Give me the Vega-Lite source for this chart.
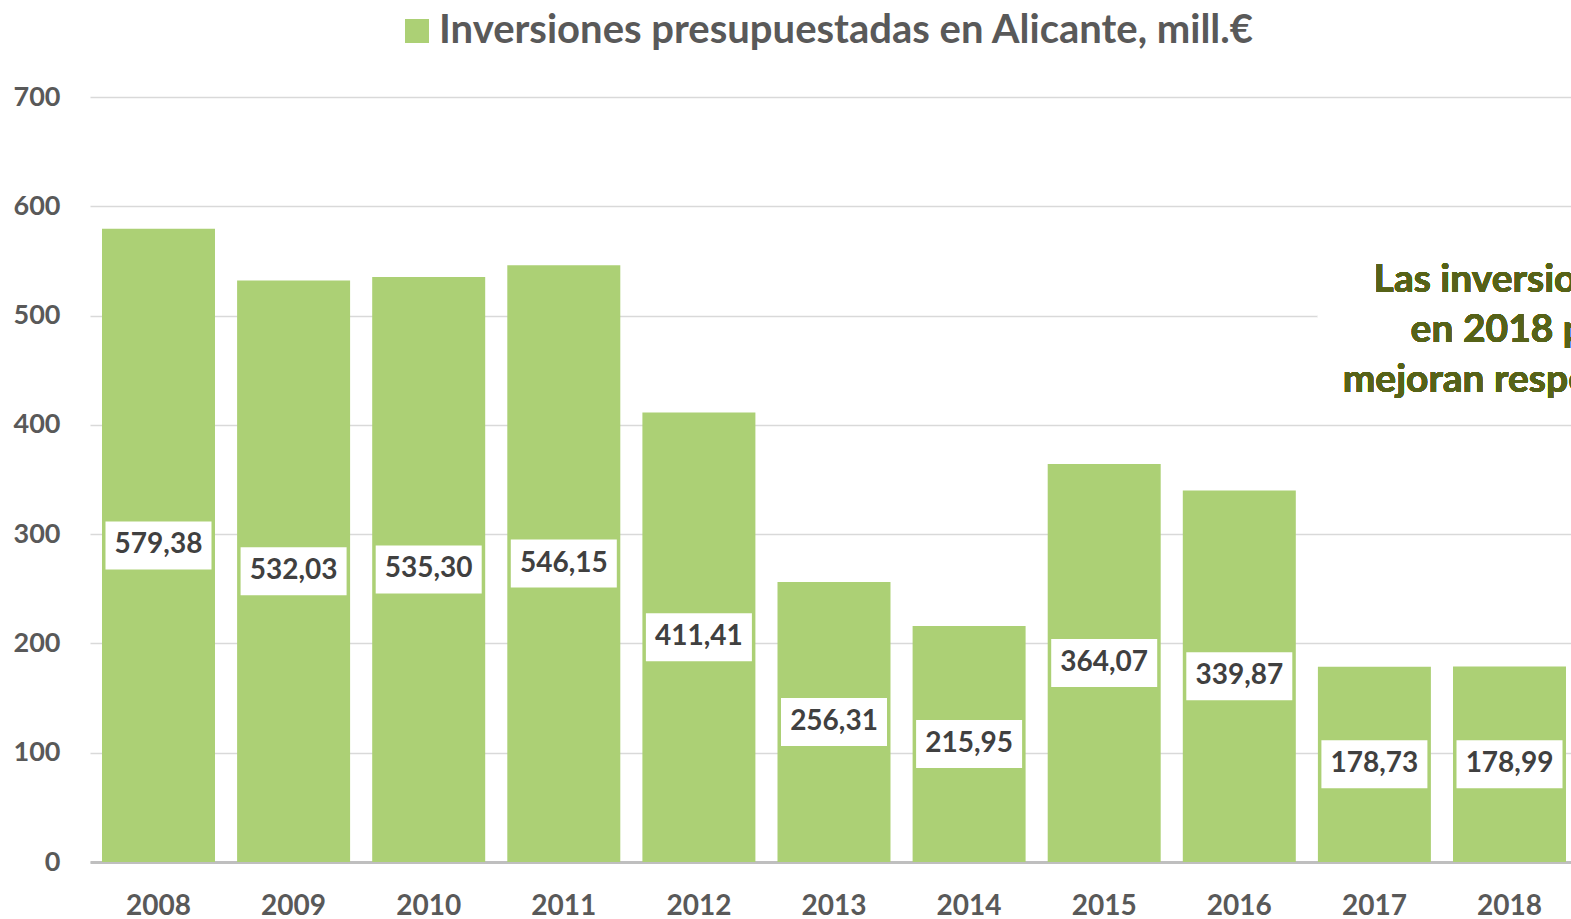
{
  "$schema": "https://vega.github.io/schema/vega-lite/v6.json",
  "autosize": "none",
  "width": 1481,
  "height": 765,
  "padding": {"left": 90, "top": 97, "right": 0, "bottom": 57},
  "background": "white",
  "data": {
    "values": [
      {"year": "2008", "value": 579.38},
      {"year": "2009", "value": 532.03},
      {"year": "2010", "value": 535.30},
      {"year": "2011", "value": 546.15},
      {"year": "2012", "value": 411.41},
      {"year": "2013", "value": 256.31},
      {"year": "2014", "value": 215.95},
      {"year": "2015", "value": 364.07},
      {"year": "2016", "value": 339.87},
      {"year": "2017", "value": 178.73},
      {"year": "2018", "value": 178.99}
    ]
  },
  "encoding": {
    "x": {
      "field": "year",
      "type": "nominal",
      "scale": {"range": [0, 1488], "paddingInner": 0.1636, "paddingOuter": 0.0888},
      "axis": {
        "title": null,
        "labelAngle": 0,
        "labelFont": "Lato",
        "labelFontSize": 28,
        "labelFontWeight": "bold",
        "labelColor": "#595959",
        "labelPadding": 30,
        "ticks": false,
        "domainColor": "#bfbfbf",
        "domainWidth": 3
      }
    }
  },
  "layer": [
    {
      "mark": {"type": "bar", "fill": "#acd075"},
      "encoding": {
        "y": {
          "field": "value",
          "type": "quantitative",
          "scale": {"domain": [0, 700], "nice": false},
          "axis": {
            "title": null,
            "values": [0, 100, 200, 300, 400, 500, 600, 700],
            "labelFont": "Lato",
            "labelFontSize": 27,
            "labelFontWeight": "bold",
            "labelColor": "#595959",
            "labelPadding": 30,
            "ticks": false,
            "domain": false,
            "gridColor": "#d9d9d9",
            "gridWidth": 1.5
          }
        },
        "color": {
          "datum": "Inversiones presupuestadas  en Alicante, mill.€",
          "scale": {"range": ["#acd075"]},
          "legend": {
            "title": null,
            "orient": "top",
            "offset": 46,
            "symbolType": "square",
            "symbolSize": 576,
            "symbolStrokeWidth": 0,
            "labelFont": "Lato",
            "labelFontSize": 40,
            "labelFontWeight": "bold",
            "labelColor": "#595959",
            "labelOffset": 2,
            "labelLimit": 2000
          }
        }
      }
    },
    {
      "mark": {"type": "rect", "fill": "white"},
      "encoding": {
        "x": {"datum": "2017", "bandPosition": 0},
        "x2": {"datum": "2018", "bandPosition": 1.5},
        "y": {"datum": 585, "type": "quantitative", "scale": {"domain": [0, 700], "nice": false}, "axis": null},
        "y2": {"datum": 430}
      }
    },
    {
      "mark": {"type": "tick", "color": "white", "opacity": 1, "thickness": 48, "size": 106},
      "encoding": {
        "y": {"field": "value", "type": "quantitative", "scale": {"domain": [0, 1400], "nice": false}, "axis": null}
      }
    },
    {
      "mark": {"type": "text", "font": "Lato", "fontSize": 28, "fontWeight": "bold", "color": "#404040", "baseline": "middle"},
      "encoding": {
        "y": {"field": "value", "type": "quantitative", "scale": {"domain": [0, 1400], "nice": false}, "axis": null},
        "text": {"field": "value", "type": "quantitative", "format": ".2f"}
      }
    },
    {
      "mark": {"type": "text", "font": "Lato", "fontSize": 39, "fontWeight": "bold", "color": "#566218", "align": "center", "baseline": "alphabetic", "lineHeight": 50},
      "encoding": {
        "x": {"datum": "2018", "bandPosition": 1.3},
        "y": {"datum": 522, "type": "quantitative", "scale": {"domain": [0, 700], "nice": false}, "axis": null},
        "text": {"value": ["Las inversiones del Estado", "en 2018 para Alicante", "mejoran respecto al año 2017"]}
      }
    }
  ],
  "resolve": {"scale": {"y": "independent"}},
  "config": {
    "view": {"stroke": null},
    "locale": {"number": {"decimal": ",", "thousands": ".", "grouping": [3], "currency": ["", " €"]}},
    "legend": {"layout": {"top": {"anchor": "middle"}}}
  }
}
